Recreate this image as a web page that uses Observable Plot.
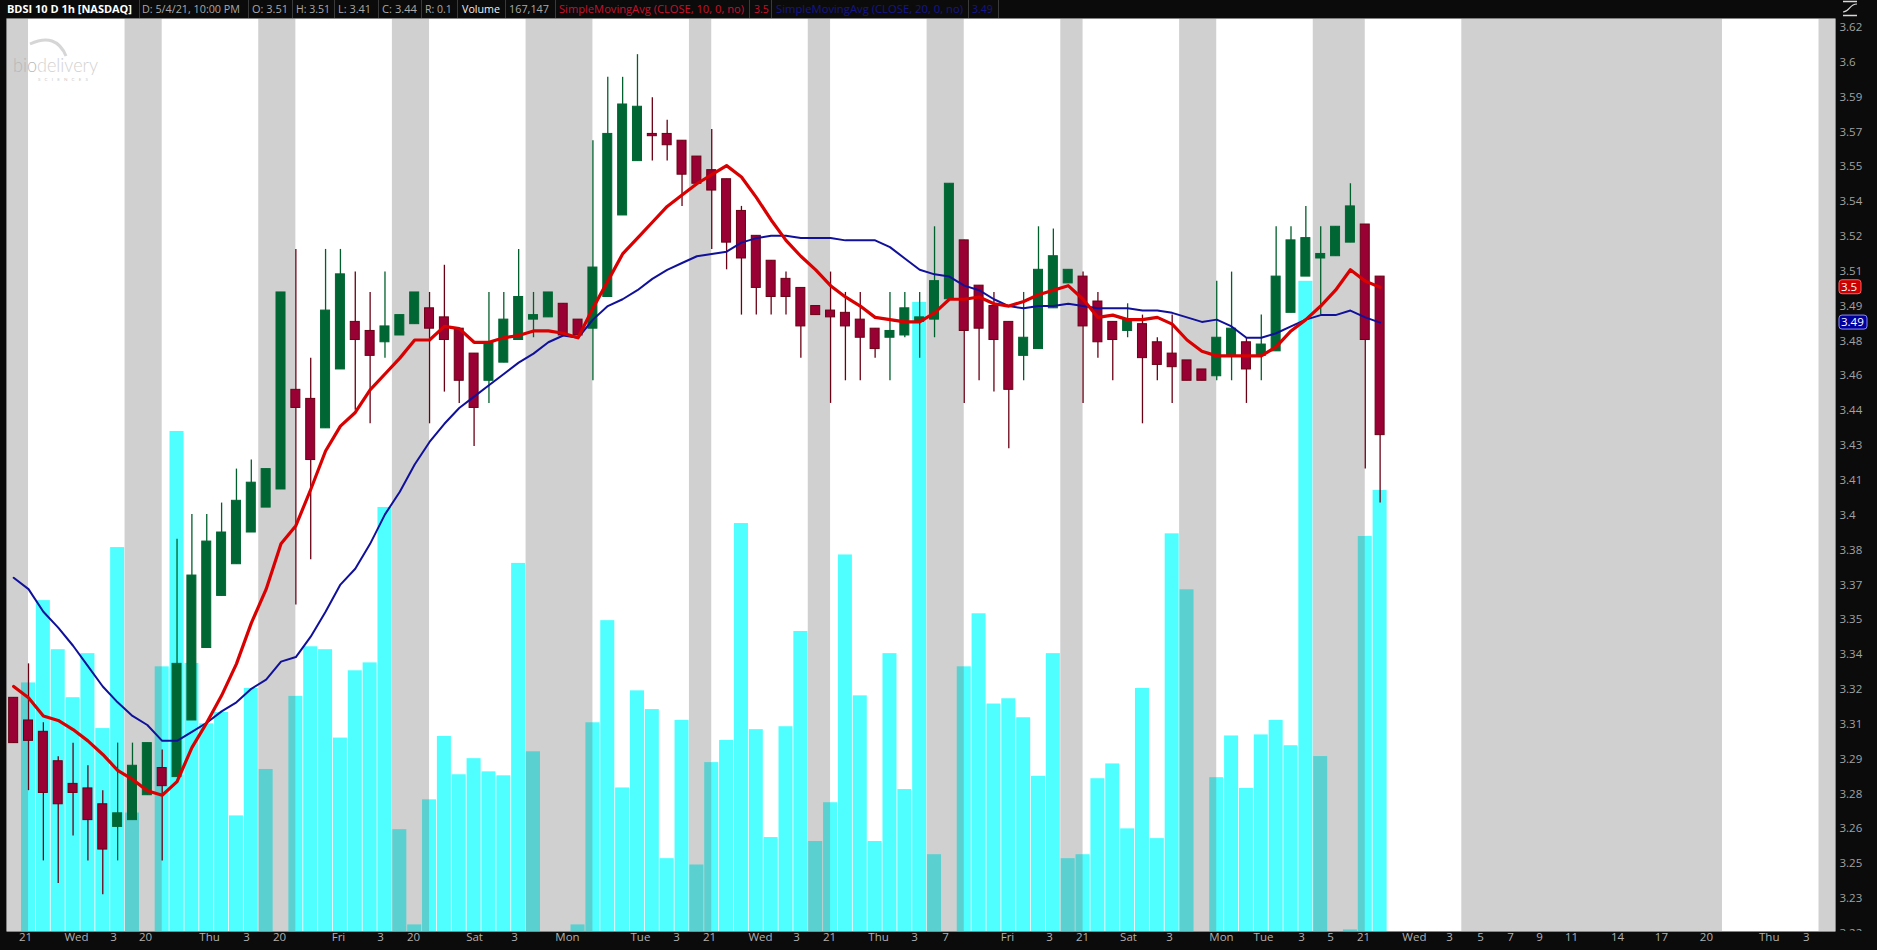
<!DOCTYPE html>
<html>
<head>
<meta charset="utf-8">
<script src="https://cdn.jsdelivr.net/npm/d3@7"></script>
<script src="https://cdn.jsdelivr.net/npm/@observablehq/plot@0.6"></script>
<style>
html,body{margin:0;padding:0;background:#0b0b0b;}
#wrap{position:relative;width:1877px;height:950px;overflow:hidden;background:#0b0b0b;}
#header{position:absolute;left:0;top:0;}
#vol,#price,#logo{position:absolute;left:0;top:18px;}
#logo{pointer-events:none;}
</style>
</head>
<body>
<div id="wrap">
  <svg id="header" width="1877" height="18"></svg>
  <div id="vol"></div>
  <svg id="logo" width="120" height="80"></svg>
  <div id="price"></div>
</div>
<script>
// ---------- DATA ----------
const openArr  = [3.324,3.314,3.309,3.296,3.286,3.284,3.277,3.267,3.270,3.281,3.293,3.289,3.314,3.346,3.369,3.383,3.397,3.408,3.416,3.460,
                  3.456,3.443,3.469,3.490,3.486,3.481,3.484,3.489,3.496,3.492,3.487,3.476,3.464,3.472,3.482,3.491,3.492,3.498,3.491,3.487,
                  3.501,3.537,3.561,3.573,3.573,3.570,3.563,3.557,3.553,3.539,3.528,3.517,3.509,3.505,3.497,3.495,3.494,3.491,3.487,3.483,
                  3.484,3.490,3.491,3.500,3.526,3.506,3.497,3.490,3.475,3.478,3.496,3.507,3.510,3.499,3.490,3.486,3.489,3.481,3.476,3.473,
                  3.469,3.466,3.475,3.481,3.475,3.477,3.494,3.510,3.518,3.519,3.525,3.533,3.51];
const highArr  = [3.324,3.339,3.313,3.298,3.304,3.294,3.283,3.304,3.304,3.304,3.301,3.394,3.405,3.405,3.410,3.425,3.429,3.425,3.503,3.522,
                  3.474,3.522,3.522,3.512,3.503,3.512,3.493,3.503,3.503,3.515,3.487,3.476,3.503,3.503,3.522,3.503,3.503,3.498,3.491,3.570,
                  3.598,3.598,3.608,3.589,3.579,3.570,3.563,3.575,3.553,3.541,3.528,3.517,3.512,3.505,3.497,3.512,3.503,3.503,3.487,3.503,
                  3.503,3.503,3.532,3.551,3.526,3.506,3.503,3.490,3.503,3.532,3.531,3.513,3.512,3.503,3.490,3.498,3.493,3.483,3.493,3.473,
                  3.469,3.508,3.512,3.483,3.493,3.532,3.532,3.541,3.532,3.532,3.551,3.533,3.51];
const lowArr   = [3.304,3.283,3.252,3.242,3.263,3.252,3.237,3.252,3.270,3.281,3.252,3.289,3.314,3.346,3.369,3.383,3.397,3.408,3.416,3.365,
                  3.385,3.443,3.469,3.451,3.445,3.474,3.484,3.489,3.445,3.459,3.454,3.435,3.454,3.472,3.482,3.483,3.492,3.484,3.484,3.464,
                  3.501,3.537,3.561,3.561,3.561,3.541,3.551,3.522,3.513,3.493,3.493,3.493,3.493,3.474,3.493,3.454,3.464,3.464,3.474,3.464,
                  3.483,3.474,3.483,3.500,3.454,3.464,3.459,3.434,3.464,3.478,3.496,3.507,3.454,3.474,3.464,3.483,3.445,3.464,3.454,3.464,
                  3.464,3.464,3.464,3.454,3.464,3.477,3.494,3.510,3.493,3.519,3.525,3.425,3.41];
const closeArr = [3.304,3.305,3.282,3.277,3.282,3.270,3.257,3.273,3.294,3.304,3.285,3.339,3.378,3.393,3.397,3.411,3.419,3.425,3.503,3.452,
                  3.429,3.495,3.511,3.482,3.475,3.488,3.493,3.503,3.487,3.482,3.464,3.452,3.481,3.491,3.501,3.493,3.503,3.484,3.484,3.514,
                  3.573,3.586,3.585,3.572,3.568,3.555,3.551,3.548,3.525,3.518,3.505,3.501,3.501,3.488,3.493,3.492,3.488,3.483,3.478,3.486,
                  3.496,3.492,3.508,3.551,3.486,3.487,3.482,3.460,3.483,3.513,3.519,3.513,3.488,3.481,3.482,3.491,3.474,3.471,3.470,3.464,
                  3.464,3.483,3.487,3.469,3.480,3.510,3.526,3.527,3.520,3.532,3.541,3.482,3.44];
// volume, thousands of shares
const volumeArr = [0,94.2,125.4,106.8,88.6,105.3,76.9,145.5,44.9,0,100.3,189.5,101.6,78.7,83.0,43.8,92.1,61.4,0,89.1,
                   107.9,106.8,73.3,98.8,101.8,160.7,38.6,2.5,49.9,73.9,59.4,65.5,60.5,59.0,139.5,68.1,0,0,2.5,79.1,
                   117.8,54.4,91.2,84.1,27.6,80.0,25.2,64.0,72.4,154.6,76.5,35.6,77.6,113.7,34.1,48.8,142.7,89.3,34.1,105.3,
                   53.8,238.4,29.1,0,100.3,120.4,86.2,88.2,81.0,58.8,105.3,27.6,29.1,57.9,63.5,38.9,92.1,35.2,150.7,129.5,
                   0,58.3,74.1,54.2,74.5,80.0,70.4,246.4,66.3,0,0.6,149.7,167.147];
const sma10Arr = [3.329,3.324,3.316,3.314,3.310,3.305,3.299,3.292,3.288,3.283,3.281,3.287,3.302,3.313,3.325,3.339,3.357,3.372,3.392,3.400,
                  3.416,3.433,3.444,3.450,3.460,3.467,3.474,3.482,3.482,3.488,3.487,3.481,3.481,3.483,3.484,3.486,3.486,3.485,3.483,3.496,
                  3.508,3.520,3.527,3.534,3.541,3.546,3.551,3.555,3.559,3.554,3.545,3.535,3.526,3.519,3.513,3.506,3.501,3.497,3.492,3.491,
                  3.490,3.490,3.494,3.500,3.500,3.501,3.498,3.497,3.499,3.502,3.504,3.506,3.500,3.492,3.493,3.491,3.491,3.492,3.489,3.482,
                  3.477,3.475,3.475,3.475,3.475,3.479,3.486,3.491,3.497,3.504,3.513,3.508,3.5053];
const sma20Arr = [3.377,3.372,3.362,3.355,3.347,3.338,3.329,3.322,3.316,3.312,3.305,3.305,3.309,3.313,3.318,3.322,3.328,3.332,3.340,3.342,
                  3.351,3.362,3.374,3.381,3.392,3.405,3.415,3.427,3.437,3.445,3.452,3.457,3.462,3.467,3.472,3.476,3.481,3.484,3.483,3.491,
                  3.497,3.500,3.504,3.509,3.513,3.516,3.519,3.520,3.521,3.525,3.527,3.528,3.528,3.527,3.527,3.527,3.526,3.526,3.526,3.523,
                  3.518,3.513,3.511,3.510,3.506,3.504,3.500,3.497,3.496,3.497,3.497,3.498,3.497,3.496,3.496,3.496,3.495,3.495,3.494,3.492,
                  3.490,3.491,3.488,3.483,3.483,3.485,3.488,3.491,3.493,3.493,3.495,3.492,3.4897];
// extended-hours sessions (bar-index ranges, grey background)
const extStart = [-0.6, 7.5, 16.5, 25.5, 34.5, 45.5, 53.5, 61.5, 70.5, 78.5, 87.5, 97.5, 121.55];
const extEnd   = [1.0, 10.0, 19.0, 28.0, 39.0, 47.0, 55.0, 64.0, 72.0, 81.0, 91.0, 115.05, 123.0];
// time axis
const xTickIndex  = [0.80,4.23,6.72,8.88,13.19,15.68,17.90,21.87,24.70,26.92,31.03,33.72,37.29,42.20,44.63,46.85,50.28,52.71,54.93,58.23,
                     60.65,62.74,66.91,69.74,71.96,75.06,77.82,81.32,84.15,86.71,88.66,90.88,94.31,96.67,98.76,100.78,102.73,104.89,107.98,110.94,
                     113.97,118.2,120.7];
const xTickLabels = ["21","Wed","3","20","Thu","3","20","Fri","3","20","Sat","3","Mon","Tue","3","21","Wed","3","21","Thu",
                     "3","7","Fri","3","21","Sat","3","Mon","Tue","3","5","21","Wed","3","5","7","9","11","14","17",
                     "20","Thu","3"];
// price axis
const yTickValues = [3.62,3.6046,3.5892,3.5738,3.5585,3.5431,3.5277,3.5123,3.4969,3.4815,3.4662,3.4508,3.4354,3.42,
                     3.4046,3.3892,3.3738,3.3585,3.3431,3.3277,3.3123,3.2969,3.2815,3.2662,3.2508,3.2354,3.22];
const yTickLabels = ["3.62","3.6","3.59","3.57","3.55","3.54","3.52","3.51","3.49","3.48","3.46","3.44","3.43","3.41",
                     "3.4","3.38","3.37","3.35","3.34","3.32","3.31","3.29","3.28","3.26","3.25","3.23","3.22"];
// header
const headerTexts = ["BDSI 10 D 1h [NASDAQ]","D: 5/4/21, 10:00 PM","O: 3.51","H: 3.51","L: 3.41","C: 3.44","R: 0.1","Volume","167,147",
                     "SimpleMovingAvg (CLOSE, 10, 0, no)","3.5","SimpleMovingAvg (CLOSE, 20, 0, no)","3.49"];
const lastSma10 = 3.5053, lastSma20 = 3.4897;

// ---------- BUILD ----------
const W = 1877, H = 932, mL = 6, mR = 42, mT = 0, mB = 19;
const xDomain = [-0.482, 122.66];
const yDomain = [3.22082, 3.62397];
const volMax = 346.0;

const UP = "#006633", DOWN = "#990033", UPWICK = "#00602c", DOWNWICK = "#6a0014";

const bars = openArr.map((o, i) => ({i, o, h: highArr[i], l: lowArr[i], c: closeArr[i], v: volumeArr[i]}));
const bands = extStart.map((a, k) => ({a, b: extEnd[k]}));
const s10 = sma10Arr.map((v, i) => ({i, v}));
const s20 = sma20Arr.map((v, i) => ({i, v}));
const xTicks = xTickIndex.map((i, k) => ({i, label: xTickLabels[k]}));
const yTicks = yTickValues.map((v, k) => ({v, label: yTickLabels[k]}));

const font = "'Open Sans', 'Noto Sans', sans-serif";

const volPlot = Plot.plot({
  width: W, height: H, marginLeft: mL, marginRight: mR, marginTop: mT, marginBottom: mB,
  x: {type: "linear", domain: xDomain, axis: null},
  y: {type: "linear", domain: [0, volMax], axis: null},
  style: {background: "#0b0b0b"},
  marks: [
    Plot.frame({fill: "#ffffff", stroke: "none"}),
    Plot.rect(bars, {x1: d => d.i - 0.4713, x2: d => d.i + 0.4713, y1: 0, y2: "v", fill: "#4fffff"}),
    Plot.rect(bands, {x1: "a", x2: "b", y1: 0, y2: volMax, fill: "#747474", fillOpacity: 0.337, clip: true})
  ]
});
document.getElementById("vol").appendChild(volPlot);

const pricePlot = Plot.plot({
  width: W, height: H, marginLeft: mL, marginRight: mR, marginTop: mT, marginBottom: mB,
  x: {type: "linear", domain: xDomain, axis: null},
  y: {type: "linear", domain: yDomain, axis: null},
  color: {type: "identity"},
  style: {background: "transparent", fontFamily: font, overflow: "visible"},
  marks: [
    Plot.ruleX(bars, {x: "i", y1: "l", y2: "h", stroke: d => d.c >= d.o ? UPWICK : DOWNWICK, strokeWidth: 1.3}),
    Plot.rect(bars, {x1: d => d.i - 0.303, x2: d => d.i + 0.303, y1: "o", y2: "c",
      fill: d => d.c >= d.o ? UP : DOWN, stroke: d => d.c >= d.o ? UP : DOWNWICK, strokeWidth: 1}),
    Plot.line(s20, {x: "i", y: "v", stroke: "#10109a", strokeWidth: 2}),
    Plot.line(s10, {x: "i", y: "v", stroke: "#d80000", strokeWidth: 3.2}),
    Plot.text(yTicks, {y: "v", text: "label", frameAnchor: "right", textAnchor: "start", dx: 4, fill: "#a2a2a2", fontSize: 11.5}),
    Plot.text(xTicks, {x: "i", text: "label", frameAnchor: "bottom", dy: 9.5, fill: "#b0b0b0", fontSize: 11.5})
  ]
});
document.getElementById("price").appendChild(pricePlot);

// badges on the price axis (positions from the plot's y scale)
(function () {
  const svg = d3.select(pricePlot.tagName.toLowerCase() === "svg" ? pricePlot : pricePlot.querySelector("svg"));
  const ys = pricePlot.scale("y");
  const xr = W - mR;
  // clip the bottom label under the time axis
  svg.append("rect").attr("x", xr + 1).attr("y", H - mB).attr("width", mR).attr("height", mB).attr("fill", "#0b0b0b");
  const badge = (val, txt, w, fill, stroke) => {
    const y = ys.apply(val);
    svg.append("rect").attr("x", xr + 4).attr("y", y - 7).attr("width", w).attr("height", 14)
      .attr("rx", 3).attr("fill", fill).attr("stroke", stroke).attr("stroke-width", 1);
    svg.append("text").attr("x", xr + 6).attr("y", y).attr("dy", "0.35em").attr("text-anchor", "start")
      .attr("fill", "#ffffff").attr("font-size", 11.5).attr("font-family", font).text(txt);
  };
  badge(lastSma10, "3.5", 22, "#cc0000", "#ff6060");
  badge(lastSma20, "3.49", 28, "#00009c", "#8a8aff");
})();

// header bar
(function () {
  const hs = d3.select("#header");
  hs.append("rect").attr("width", 1877).attr("height", 18).attr("fill", "#0b0b0b");
  const spans = [[7,132],[142,240],[252,288],[296,329],[338,371],[382,417],[425,450],[462,500],[509,549],[559,744],[754,765],[776,963],[972,992]];
  const colors = ["#ffffff","#a9a9a9","#a9a9a9","#a9a9a9","#a9a9a9","#a9a9a9","#a9a9a9","#f0f0f0","#a9a9a9","#c8102e","#c8102e","#16168c","#16168c"];
  const seps = [139,248,292,334,378,421,457,505,555,749,771,968,998];
  seps.forEach(x => hs.append("line").attr("x1", x + 0.5).attr("x2", x + 0.5).attr("y1", 0).attr("y2", 18)
    .attr("stroke", "#3a3a3a").attr("stroke-width", 1));
  headerTexts.forEach((t, k) => {
    const target = spans[k][1] - spans[k][0];
    const el = hs.append("text").attr("x", spans[k][0]).attr("y", 13).attr("font-family", font).attr("font-size", 12)
      .attr("font-weight", k === 0 ? 700 : 400).attr("fill", colors[k]).text(t);
    const natural = el.node().getComputedTextLength();
    let size = 12, len = target;
    if (natural > target) {
      size = Math.max(10.5, 12 * target / natural);
      len = Math.max(target, natural * size / 12);
    }
    el.attr("font-size", size.toFixed(2)).attr("textLength", len.toFixed(1)).attr("lengthAdjust", "spacingAndGlyphs");
  });
  // small study icon at the top right
  hs.append("line").attr("x1", 1843).attr("x2", 1857).attr("y1", 1.5).attr("y2", 1.5).attr("stroke", "#d8d8d8").attr("stroke-width", 1.5);
  hs.append("path").attr("d", "M1843,12 C1850,12 1849,4 1857,4").attr("fill", "none").attr("stroke", "#d8d8d8").attr("stroke-width", 1.2);
  hs.append("line").attr("x1", 1843).attr("x2", 1857).attr("y1", 15.5).attr("y2", 15.5).attr("stroke", "#d8d8d8").attr("stroke-width", 1.5);
})();

// watermark logo
(function () {
  const lg = d3.select("#logo");
  lg.append("path").attr("d", "M30,26 Q56,14 66,38").attr("fill", "none").attr("stroke", "#d6d6d6").attr("stroke-width", 3);
  const t = lg.append("text").attr("x", 13).attr("y", 54).attr("font-family", "Lato, 'Open Sans', sans-serif")
    .attr("font-size", 19).attr("font-weight", 300).attr("textLength", 85).attr("lengthAdjust", "spacingAndGlyphs");
  t.append("tspan").attr("fill", "#b8b8b8").text("bio");
  t.append("tspan").attr("fill", "#d2d2d2").text("delivery");
  lg.append("text").attr("x", 38).attr("y", 63).attr("font-family", "Lato, sans-serif").attr("font-size", 4.5)
    .attr("fill", "#c8c8c8").attr("textLength", 50).attr("lengthAdjust", "spacing").text("SCIENCES");
})();
</script>
</body>
</html>
